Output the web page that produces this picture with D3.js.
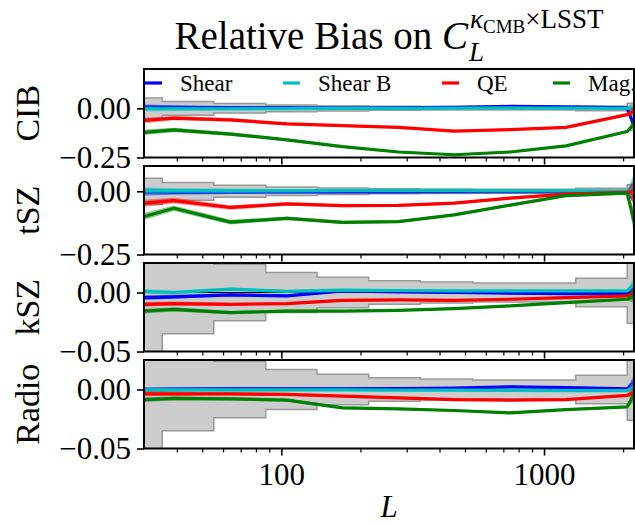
<!DOCTYPE html>
<html>
<head>
<meta charset="utf-8">
<title>Relative Bias on C_L</title>
<script src="https://d3js.org/d3.v7.min.js"></script>
<style>
  body { margin: 0; background: #fff; }
  svg text { font-family: "Liberation Serif", "Times New Roman", Times, "DejaVu Serif", serif; fill: #000; }
</style>
</head>
<body>
<svg width="635" height="525" id="chart"></svg>
<script>
// multipole bins (line vertices) and the step edges of the grey LSST error band
var L = [30, 39, 64, 105, 171, 279, 455, 743, 1212, 2073, 2200];
var binEdges = [30, 35.2, 55.3, 87.2, 136.6, 215, 338, 535, 840, 1320, 2073, 2200];
var sigmaLSST = [0.052, 0.035, 0.024, 0.017, 0.013, 0.010, 0.009, 0.008, 0.008, 0.012, 0.026];

var seriesNames = ["Shear", "Shear B", "QE", "Mag."];
var panelNames = ["CIB", "tSZ", "kSZ", "Radio"];

// CIB
var cibShear  = [0.006, 0.005, 0.003, 0.002, 0.001, 0.002, 0.005, 0.010, 0.008, 0.002, -0.09];
var cibShearB = [-0.002, -0.002, -0.002, -0.001, 0.0, 0.0, 0.001, 0.002, 0.001, 0.0, 0.004];
var cibQE     = [-0.062, -0.050, -0.059, -0.079, -0.088, -0.097, -0.116, -0.108, -0.097, -0.032, -0.012];
var cibMag    = [-0.122, -0.110, -0.131, -0.160, -0.195, -0.222, -0.236, -0.222, -0.191, -0.118, -0.08];
var cibErr    = [0.014, 0.011, 0.009, 0.007, 0.006, 0.005, 0.005, 0.005, 0.005, 0.006, 0.03];

// tSZ
var tszShear  = [-0.003, -0.003, -0.002, -0.002, -0.002, -0.002, -0.001, -0.001, -0.001, -0.001, 0.0];
var tszShearB = [0.002, 0.002, 0.002, 0.002, 0.003, 0.003, 0.003, 0.002, 0.002, 0.001, 0.02];
var tszQE     = [-0.047, -0.037, -0.064, -0.050, -0.057, -0.056, -0.047, -0.027, -0.011, -0.004, -0.004];
var tszMag    = [-0.100, -0.067, -0.122, -0.107, -0.123, -0.120, -0.093, -0.055, -0.017, -0.007, -0.12];
var tszErr    = [0.014, 0.011, 0.009, 0.007, 0.006, 0.005, 0.005, 0.005, 0.005, 0.006, 0.05];

// kSZ
var kszShear  = [-0.0043, -0.0037, -0.002, -0.0029, 0.0014, 0.0006, 0.0, -0.0006, -0.0009, -0.0009, 0.003];
var kszShearB = [0.0009, 0.0, 0.0029, 0.0009, 0.002, 0.0017, 0.0014, 0.0014, 0.0014, 0.0014, 0.007];
var kszQE     = [-0.010, -0.0094, -0.010, -0.0094, -0.0066, -0.0063, -0.0066, -0.0057, -0.0043, -0.0029, -0.0009];
var kszMag    = [-0.0157, -0.0143, -0.0171, -0.0157, -0.0157, -0.0151, -0.0137, -0.0114, -0.0086, -0.0057, -0.0029];
var kszErr    = [0.002, 0.0017, 0.0014, 0.0012, 0.001, 0.0009, 0.0009, 0.0009, 0.0009, 0.001, 0.006];

// Radio
var radioShear  = [0.0, 0.0003, 0.0006, 0.0006, 0.0006, 0.0008, 0.0012, 0.0023, 0.0017, 0.0006, 0.006];
var radioShearB = [-0.0003, -0.0003, -0.0003, -0.0003, -0.0003, -0.0006, -0.0006, -0.0008, -0.001, -0.001, 0.002];
var radioQE     = [-0.0037, -0.0037, -0.0037, -0.0042, -0.0056, -0.0071, -0.0085, -0.009, -0.0085, -0.005, -0.0023];
var radioMag    = [-0.0085, -0.0076, -0.0079, -0.009, -0.0155, -0.0164, -0.0178, -0.0198, -0.017, -0.0147, -0.0042];
var radioErr    = [0.002, 0.0017, 0.0014, 0.0012, 0.001, 0.0009, 0.0009, 0.0009, 0.0009, 0.001, 0.006];

var yDomains = [[-0.25, 0.2], [-0.25, 0.1], [-0.05, 0.025], [-0.05, 0.025]];
var yTicks = [[-0.25, 0], [-0.25, 0], [-0.05, 0], [-0.05, 0]];
var xMajor = [100, 1000];
var xMinor = [40, 50, 60, 70, 80, 90, 200, 300, 400, 500, 600, 700, 800, 900, 2000];

var panels = [
  {values: [cibShear, cibShearB, cibQE, cibMag], err: cibErr},
  {values: [tszShear, tszShearB, tszQE, tszMag], err: tszErr},
  {values: [kszShear, kszShearB, kszQE, kszMag], err: kszErr},
  {values: [radioShear, radioShearB, radioQE, radioMag], err: radioErr}
];

var colors = ["#0000ff", "#00bfbf", "#ff0000", "#008000"];
var serif = "'Liberation Serif', 'Times New Roman', Times, 'DejaVu Serif', serif";

var svg = d3.select("#chart").attr("font-family", serif);
var left = 144, right = 634;
var top0 = 69, panelH = 88.5, panelStep = 97;
var fs = 31;

var x = d3.scaleLog().domain([30, 2200]).range([left, right]);

panels.forEach(function(p, i) {
  var top = top0 + i * panelStep;
  var y = d3.scaleLinear().domain(yDomains[i]).range([top + panelH, top]);
  var g = svg.append("g");

  g.append("clipPath").attr("id", "clip" + i)
    .append("rect").attr("x", left).attr("y", top).attr("width", right - left).attr("height", panelH);
  var plot = g.append("g").attr("clip-path", "url(#clip" + i + ")");

  // grey step band
  var steps = sigmaLSST.map(function(s, k) { return [binEdges[k], s]; });
  steps.push([binEdges[binEdges.length - 1], sigmaLSST[sigmaLSST.length - 1]]);
  var band = d3.area()
    .x(function(d) { return x(d[0]); })
    .y0(function(d) { return y(-d[1]); })
    .y1(function(d) { return y(d[1]); })
    .curve(d3.curveStepAfter);
  plot.append("path").attr("d", band(steps))
    .attr("fill", "#cccccc").attr("stroke", "#999999").attr("stroke-width", 1.5);

  // zero line
  plot.append("line")
    .attr("x1", left).attr("x2", right)
    .attr("y1", y(0)).attr("y2", y(0))
    .attr("stroke", "#000").attr("stroke-width", 1);

  p.values.forEach(function(vals, s) {
    var pts = vals.map(function(v, k) { return [L[k], v, p.err[k]]; });
    var area = d3.area()
      .x(function(d) { return x(d[0]); })
      .y0(function(d) { return y(d[1] - d[2]); })
      .y1(function(d) { return y(d[1] + d[2]); });
    var line = d3.line()
      .x(function(d) { return x(d[0]); })
      .y(function(d) { return y(d[1]); });
    plot.append("path").attr("d", area(pts))
      .attr("fill", colors[s]).attr("opacity", 0.45);
    plot.append("path").attr("d", line(pts))
      .attr("fill", "none").attr("stroke", colors[s]).attr("stroke-width", 3.2)
      .attr("stroke-linejoin", "round");
  });

  // frame
  g.append("rect").attr("x", left).attr("y", top).attr("width", right - left).attr("height", panelH)
    .attr("fill", "none").attr("stroke", "#000").attr("stroke-width", 2);

  // y axis
  var yAxis = d3.axisLeft(y).tickValues(yTicks[i]).tickSize(7).tickPadding(6)
    .tickFormat(d3.format(".2f"));
  var ya = g.append("g").attr("transform", "translate(" + left + ",0)").call(yAxis);
  ya.attr("font-family", serif).attr("font-size", fs);
  ya.select(".domain").remove();
  ya.selectAll("line").attr("stroke-width", 1.6);

  // x axis
  var bottom = top + panelH;
  var xa = g.append("g").attr("transform", "translate(0," + bottom + ")")
    .call(d3.axisBottom(x).tickValues(xMajor).tickSize(7).tickPadding(7)
      .tickFormat(i === panels.length - 1 ? d3.format("d") : function() { return ""; }));
  xa.attr("font-family", serif).attr("font-size", fs);
  xa.select(".domain").remove();
  xa.selectAll("line").attr("stroke-width", 1.6);
  var xm = g.append("g").attr("transform", "translate(0," + bottom + ")")
    .call(d3.axisBottom(x).tickValues(xMinor).tickSize(4).tickFormat(function() { return ""; }));
  xm.select(".domain").remove();
  xm.selectAll("line").attr("stroke-width", 1.2);

  // panel label
  svg.append("text")
    .attr("transform", "translate(39," + (top + panelH / 2) + ") rotate(-90)")
    .attr("text-anchor", "middle")
    .attr("font-size", 34)
    .text(panelNames[i]);
});

// legend inside CIB panel
var legX = [145, 283, 442, 553];
var legY = 83;
seriesNames.forEach(function(name, s) {
  svg.append("line")
    .attr("x1", legX[s]).attr("x2", legX[s] + 17)
    .attr("y1", legY).attr("y2", legY)
    .attr("stroke", colors[s]).attr("stroke-width", 3.2);
  svg.append("text")
    .attr("x", legX[s] + 35).attr("y", legY + 8)
    .attr("font-size", 23)
    .text(name);
});

// x label
svg.append("text")
  .attr("x", (left + right) / 2).attr("y", 517)
  .attr("text-anchor", "middle")
  .attr("font-size", fs).attr("font-style", "italic")
  .text("L");

// title: Relative Bias on C_L^{kappa_CMB x LSST}
var tBase = 49;
var main = svg.append("text").attr("y", tBase).attr("font-size", 39);
main.append("tspan").text("Relative Bias on ");
main.append("tspan").attr("font-style", "italic").text("C");
var w1 = main.node().getComputedTextLength();

var sub = svg.append("text").attr("y", tBase + 12).attr("font-size", 27)
  .attr("font-style", "italic").text("L");
var sup = svg.append("text").attr("y", tBase - 21).attr("font-size", 27);
sup.append("tspan").attr("font-style", "italic").text("\u03ba");
sup.append("tspan").attr("font-size", 19).attr("dy", 5).text("CMB");
sup.append("tspan").attr("dy", -5).text("\u00d7LSST");
var wSup = sup.node().getComputedTextLength();
var total = w1 + 2 + wSup;
var x0 = (left + right) / 2 - total / 2;
main.attr("x", x0);
sub.attr("x", x0 + w1 + 1);
sup.attr("x", x0 + w1 + 2);
</script>
</body>
</html>
